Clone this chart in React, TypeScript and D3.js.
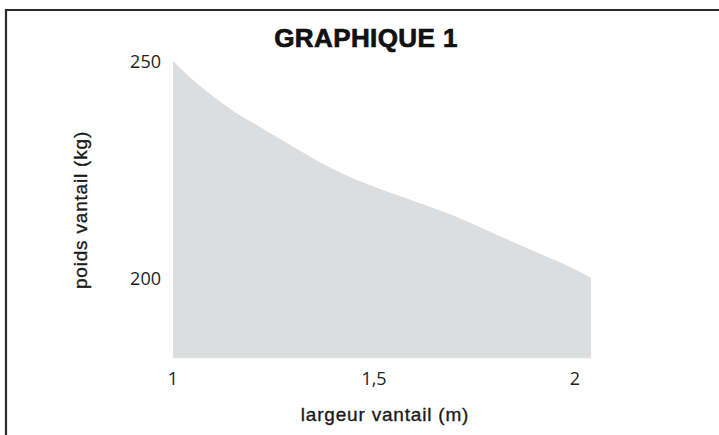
import * as d3 from "d3";

// largeur vantail (m) -> poids vantail (kg)
const widths = [1, 1.05, 1.1, 1.15, 1.2, 1.3, 1.4, 1.5, 1.6, 1.7, 1.8, 1.9, 2, 2.04];
const weights = [250, 245.6, 241.8, 238.5, 235.7, 230.2, 225.0, 221.0, 217.7, 214.3, 210.2, 206.1, 202, 200];
const BASE_WEIGHT = 181.5;

const xTicks = [1, 1.5, 2];
const xTickLabels = ["1", "1,5", "2"];
const yTicks = [200, 250];
const yTickLabels = ["200", "250"];

const TITLE = "GRAPHIQUE 1";
const X_TITLE = "largeur vantail (m)";
const Y_TITLE = "poids vantail (kg)";

const W = 719;
const H = 435;

export default function App() {
  const x = d3.scaleLinear().domain([1, 2]).range([173, 575]);
  const y = d3.scaleLinear().domain([200, 250]).range([278, 61]);

  const points = widths.map((w, i) => ({ w, kg: weights[i] }));
  const area = d3
    .area<{ w: number; kg: number }>()
    .x((d) => x(d.w))
    .y0(y(BASE_WEIGHT))
    .y1((d) => y(d.kg))
    .curve(d3.curveMonotoneX);

  const tickFont = "'Open Sans', 'DejaVu Sans', sans-serif";
  const labelFont = "'Liberation Sans', Arial, sans-serif";

  return (
    <svg
      width={W}
      height={H}
      style={{ position: "absolute", left: 0, top: 0, background: "#fff" }}
    >
      {/* frame: left + top only */}
      <path d={`M6,${H} L6,10 L${W},10`} fill="none" stroke="#2b2b2b" strokeWidth={2.2} />

      <text
        x={366}
        y={47}
        textAnchor="middle"
        fontFamily={labelFont}
        fontWeight={700}
        fontSize={26}
        fill="#111"
        stroke="#111"
        strokeWidth={0.7}
        style={{ letterSpacing: "0.4px" }}
      >
        {TITLE}
      </text>

      <path d={area(points) ?? ""} fill="#dcdddf" />

      {yTicks.map((t, i) => (
        <text
          key={t}
          x={161}
          y={y(t) + 7}
          textAnchor="end"
          fontFamily={tickFont}
          fontSize={18}
          fill="#222"
        >
          {yTickLabels[i]}
        </text>
      ))}

      {xTicks.map((t, i) => (
        <text
          key={t}
          x={x(t)}
          y={385}
          textAnchor="middle"
          fontFamily={tickFont}
          fontSize={18}
          fill="#222"
        >
          {xTickLabels[i]}
        </text>
      ))}

      <text
        x={385}
        y={421}
        textAnchor="middle"
        fontFamily={labelFont}
        fontSize={19}
        fill="#1a1a1a"
        stroke="#1a1a1a"
        strokeWidth={0.35}
        style={{ letterSpacing: "0.8px" }}
      >
        {X_TITLE}
      </text>

      <text
        transform={`translate(87,210) rotate(-90)`}
        textAnchor="middle"
        fontFamily={labelFont}
        fontSize={19}
        fill="#1a1a1a"
        stroke="#1a1a1a"
        strokeWidth={0.35}
        style={{ letterSpacing: "0.8px" }}
      >
        {Y_TITLE}
      </text>
    </svg>
  );
}
